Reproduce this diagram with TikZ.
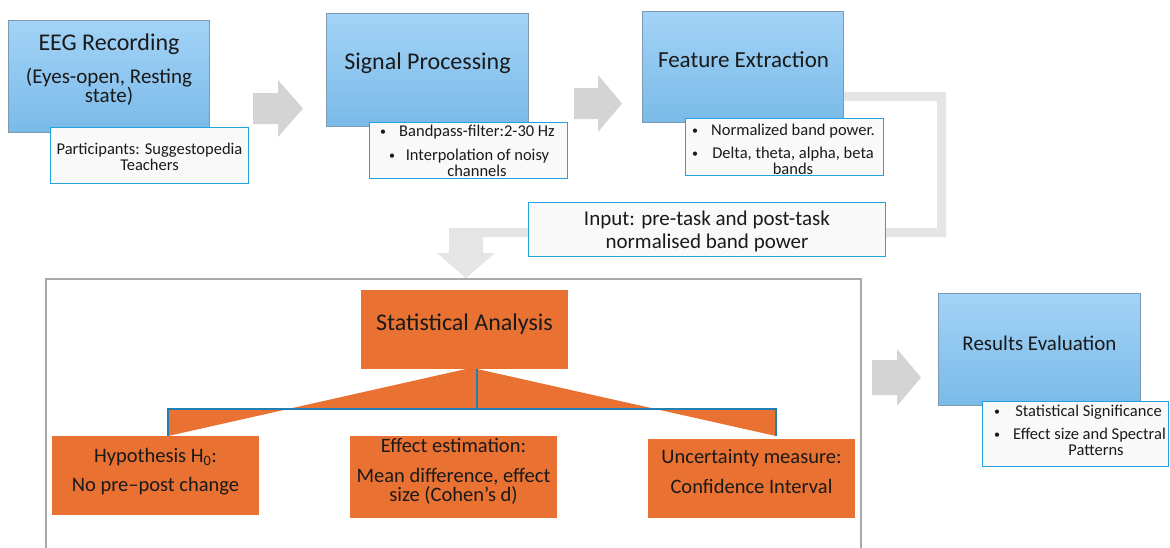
\documentclass[tikz,border=0pt]{standalone}
\usepackage{fontspec}
\setmainfont{Carlito}
\definecolor{bltop}{HTML}{A3D3F7}
\definecolor{blbot}{HTML}{7ABAE8}
\definecolor{blbord}{HTML}{7E9AB0}
\definecolor{notebd}{HTML}{23A2DD}
\definecolor{notebg}{HTML}{F9F9F9}
\definecolor{orng}{HTML}{E97132}
\definecolor{lineblue}{HTML}{1F80B4}
\definecolor{arrgray}{HTML}{D4D4D4}
\definecolor{bentgray}{HTML}{E5E5E5}
\definecolor{framegray}{HTML}{A9A9A9}
\definecolor{txtc}{HTML}{1A1A1A}
\begin{document}
\begin{tikzpicture}[x=1pt,y=-1pt,
  bbox/.style={draw=blbord,line width=0.8pt,top color=bltop,bottom color=blbot,anchor=north west,inner sep=0pt},
  notebox/.style={draw=notebd,line width=1.3pt,fill=notebg,anchor=north west,inner sep=0pt},
  obox/.style={fill=orng,draw=none,anchor=north west,inner sep=0pt},
  lbl/.style={anchor=base,inner sep=0pt,text=txtc},
  fA/.style={lbl,font=\fontsize{24}{28}\selectfont},
  fB/.style={lbl,font=\fontsize{21}{25}\selectfont},
  fC/.style={lbl,font=\fontsize{20.5}{24}\selectfont},
  fS/.style={lbl,font=\fontsize{16.5}{19}\selectfont},
  bul/.style={lbl,font=\fontsize{12}{14}\selectfont},
  conn/.style={draw=lineblue,line width=2pt},
]
\useasboundingbox (0,0) rectangle (1170,547);
\fill[white] (0,0) rectangle (1170,547);

% bent gray arrow (behind boxes)
\fill[bentgray] (838,92) -- (946,92) -- (946,237) -- (483,237) -- (483,253) -- (495,253)
  -- (466,278) -- (437,253) -- (449,253) -- (449,228) -- (937,228) -- (937,101) -- (838,101) -- cycle;

% block arrows
\fill[arrgray] (253,93) -- (278,93) -- (278,80) -- (303,108.5) -- (278,137) -- (278,124) -- (253,124) -- cycle;
\fill[arrgray] (574,88) -- (598,88) -- (598,75) -- (622,103.5) -- (598,132) -- (598,119) -- (574,119) -- cycle;
\fill[arrgray] (872,360) -- (897,360) -- (897,349) -- (921,377.5) -- (897,406) -- (897,395) -- (872,395) -- cycle;

% frame
\draw[framegray,line width=1.5pt] (46,548) -- (46,279) -- (861,279) -- (861,548);

% blue boxes and notes
\node[bbox,minimum width=201pt,minimum height=112pt] (eeg) at (8,20) {};
\node[notebox,minimum width=198pt,minimum height=56pt] (eegn) at (50,127) {};
\node[bbox,minimum width=202pt,minimum height=113pt] (sp) at (326,13) {};
\node[notebox,minimum width=198pt,minimum height=56pt] (spn) at (369,122) {};
\node[bbox,minimum width=201pt,minimum height=111pt] (fe) at (642,11) {};
\node[notebox,minimum width=198pt,minimum height=57pt] (fen) at (685,118) {};
\node[notebox,minimum width=357pt,minimum height=54pt] (inp) at (528,202) {};
\node[bbox,minimum width=202pt,minimum height=112pt] (re) at (938,293) {};
\node[notebox,minimum width=186pt,minimum height=65pt] (ren) at (982,401) {};

% orange boxes
\node[obox,minimum width=207pt,minimum height=79pt] (stat) at (361,290) {};
\node[obox,minimum width=207pt,minimum height=79pt] (hyp) at (52,436) {};
\node[obox,minimum width=207pt,minimum height=82pt] (eff) at (350,436) {};
\node[obox,minimum width=207pt,minimum height=79pt] (unc) at (648,439) {};

% connectors
\coordinate (s0) at (477,369);
\coordinate (jn) at (477,409);
\coordinate (h0) at (168,436);
\coordinate (u0) at (776,436);
\fill[orng] (466,369) -- (s0) -- (jn) -| (h0) -- cycle;
\fill[orng] (s0) -- (jn) -| (u0) -- cycle;
\draw[conn] (s0) -- (jn) -| (h0);
\draw[conn] (jn) -| (u0);

% texts
\node[fA] (t1) at (109,50) {EEG Recording};
\node[fB] (t2) at (109,83) {(Eyes-open, Resting};
\node[fB] (t3) at (109,102) {state)};
\node[fS] (t4) at (149.5,154) {Participants: Suggestopedia};
\node[fS] (t5) at (149.5,170) {Teachers};

\node[fA] (t6) at (427.5,69) {Signal Processing};
\node[bul] (b1) at (383,135) {•};
\node[fS] (t7) at (477,136) {Bandpass-filter:2-30 Hz};
\node[bul] (b2) at (392,159) {•};
\node[fS] (t8) at (477.5,160) {Interpolation of noisy};
\node[fS] (t9) at (477,176) {channels};

\node[lbl,font=\fontsize{23}{27}\selectfont] (t10) at (743.5,67) {Feature Extraction};
\node[bul] (b3) at (695,134) {•};
\node[fS] (t11) at (793,135) {Normalized band power.};
\node[bul] (b4) at (695,157) {•};
\node[fS] (t12) at (793,158) {Delta, theta, alpha, beta};
\node[fS] (t13) at (793,174) {bands};

\node[fB] (t14) at (707,225) {Input: pre-task and post-task};
\node[fB] (t15) at (707,248) {normalised band power};

\node[fA] (t16) at (464.5,330) {Statistical Analysis};
\node[fC] (t17) at (155.5,462) {Hypothesis H\textsubscript{0}:};
\node[fC] (t18) at (155.5,491) {No pre–post change};
\node[fC] (t19) at (453.5,452) {Effect estimation:};
\node[fC] (t20) at (453.5,482) {Mean difference, effect};
\node[fC] (t21) at (453.5,501) {size (Cohen’s d)};
\node[fC] (t22) at (751.5,463) {Uncertainty measure:};
\node[fC] (t23) at (751.5,493) {Confidence Interval};

\node[fB] (t24) at (1039.5,350) {Results Evaluation};
\node[bul] (b5) at (997,415) {•};
\node[fS] (t25) at (1088.5,416) {Statistical Significance};
\node[bul] (b6) at (997,438) {•};
\node[fS] (t26) at (1089.5,439) {Effect size and Spectral};
\node[fS] (t27) at (1096,455) {Patterns};
\end{tikzpicture}
\end{document}
